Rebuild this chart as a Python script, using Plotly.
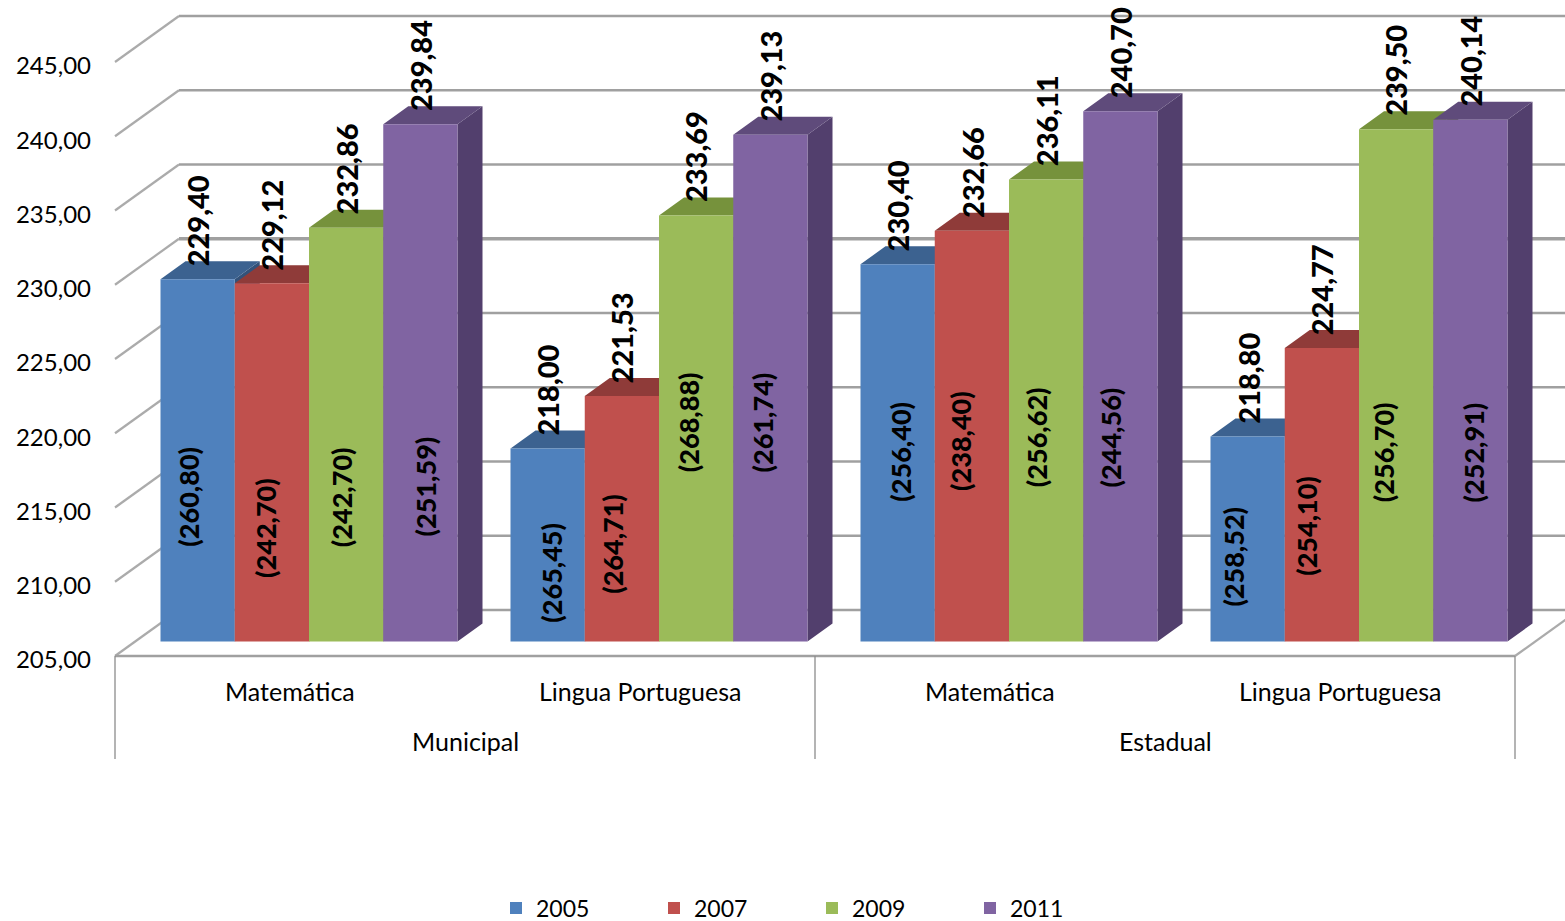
import plotly.graph_objects as go

groups = ["Municipal", "Estadual"]
subjects = ["Matemática", "Lingua Portuguesa", "Matemática", "Lingua Portuguesa"]
years = ["2005", "2007", "2009", "2011"]
values = {
    "2005": [229.40, 218.00, 230.40, 218.80],
    "2007": [229.12, 221.53, 232.66, 224.77],
    "2009": [232.86, 233.69, 236.11, 239.50],
    "2011": [239.84, 239.13, 240.70, 240.14],
}
paren = {
    "2005": ["(260,80)", "(265,45)", "(256,40)", "(258,52)"],
    "2007": ["(242,70)", "(264,71)", "(238,40)", "(254,10)"],
    "2009": ["(242,70)", "(268,88)", "(256,62)", "(256,70)"],
    "2011": ["(251,59)", "(261,74)", "(244,56)", "(252,91)"],
}
# hand-placed positions of the bracketed labels (value height, pixel shift from bar centre)
paren_y = {
    "2005": [214.73, 209.61, 217.76, 210.69],
    "2007": [212.64, 211.57, 218.50, 212.78],
    "2009": [214.73, 219.78, 218.77, 217.76],
    "2011": [215.47, 219.78, 218.77, 217.76],
}
paren_dx = {
    "2005": [-10, 3, 2, -15],
    "2007": [-7, -9, -12, -15],
    "2009": [-5, -8, -10, -13],
    "2011": [5, -8, -10, 3],
}
ticks = [205, 210, 215, 220, 225, 230, 235, 240, 245]
front = {"2005": "#4F81BD", "2007": "#C0504D", "2009": "#9BBB59", "2011": "#8064A2"}
top = {"2005": "#3C6290", "2007": "#8F3B39", "2009": "#76923C", "2011": "#5F4B7B"}
side = {"2005": "#33527A", "2007": "#7A3230", "2009": "#647C33", "2011": "#523F6D"}

W, H = 1565, 921
LEFT = 92
PX_X = 350.0        # pixels per category
PX_Y = 14.85        # pixels per value unit
FONT = "Lato"


def xr(shift=0):
    return [-0.5 + (LEFT - 115 - shift) / PX_X, -0.5 + (W - 115 - shift) / PX_X]


def yr(shift=0):
    return [205 - (H - 656 + shift) / PX_Y, 205 + (656 - shift) / PX_Y]


BAR_W = 74.25 / PX_X
DEPTH_X, DEPTH_Y = 25 / PX_X, 18 / PX_Y
WALL_X, WALL_Y = 64 / PX_X, 46 / PX_Y
END_X = xr()[1]

fig = go.Figure()

# back wall, side wall
for t in ticks:
    fig.add_trace(go.Scatter(
        x=[-0.5, -0.5 + WALL_X], y=[t, t + WALL_Y], mode="lines",
        line=dict(color="#ABABAB", width=2.2), showlegend=False, hoverinfo="skip"))
    fig.add_trace(go.Scatter(
        x=[-0.5 + WALL_X, END_X], y=[t + WALL_Y, t + WALL_Y], mode="lines",
        line=dict(color="#A0A0A0", width=3.4 if t == 230 else 2.6), showlegend=False, hoverinfo="skip"))

# floor edges and category brackets
fig.add_trace(go.Scatter(
    x=[-0.5, 3.5], y=[205, 205], mode="lines",
    line=dict(color="#A0A0A0", width=2.6), showlegend=False, hoverinfo="skip"))
fig.add_trace(go.Scatter(
    x=[3.5, 3.5 + WALL_X], y=[205, 205 + WALL_Y], mode="lines",
    line=dict(color="#ABABAB", width=2.2), showlegend=False, hoverinfo="skip"))
for bx in [-0.5, 1.5, 3.5]:
    fig.add_trace(go.Scatter(
        x=[bx, bx], y=[205, 205 - 103 / PX_Y], mode="lines",
        line=dict(color="#8C8C8C", width=1.3), showlegend=False, hoverinfo="skip"))

# side + top faces of every bar (third dimension)
for j, yr_name in enumerate(years):
    sx, sy, tx, ty = [], [], [], []
    for i, v in enumerate(values[yr_name]):
        l = i + (j - 2) * BAR_W
        r = l + BAR_W
        sx += [r, r + DEPTH_X, r + DEPTH_X, r, r, None]
        sy += [205, 205 + DEPTH_Y, v + DEPTH_Y, v, 205, None]
        tx += [l, l + DEPTH_X, r + DEPTH_X, r, l, None]
        ty += [v, v + DEPTH_Y, v + DEPTH_Y, v, v, None]
    fig.add_trace(go.Scatter(x=sx, y=sy, xaxis="x2", yaxis="y2", mode="lines", fill="toself",
                             fillcolor=side[yr_name], line=dict(width=0, color=side[yr_name]),
                             showlegend=False, hoverinfo="skip"))
    fig.add_trace(go.Scatter(x=tx, y=ty, xaxis="x2", yaxis="y2", mode="lines", fill="toself",
                             fillcolor=top[yr_name], line=dict(width=0, color=top[yr_name]),
                             showlegend=False, hoverinfo="skip"))

# front faces
for yr_name in years:
    fig.add_trace(go.Bar(
        x=list(range(4)), y=[v - 205 for v in values[yr_name]], base=205, name=yr_name,
        marker=dict(color=front[yr_name], line=dict(width=0)),
        xaxis="x3", yaxis="y3",
        customdata=values[yr_name], hovertemplate="%{customdata:.2f}<extra>" + yr_name + "</extra>"))

annotations = []
VALUE_FONT = dict(family=FONT, size=29, color="black", weight=900)
PAREN_FONT = dict(family=FONT, size=27, color="black", weight=900)
for j, yr_name in enumerate(years):
    for i, v in enumerate(values[yr_name]):
        cx = i + (j - 1.5) * BAR_W
        annotations.append(dict(
            x=cx, y=v, xref="x3", yref="y3", text=f"{v:.2f}".replace(".", ","), textangle=-90,
            showarrow=False, xanchor="center", yanchor="bottom", xshift=0, yshift=12,
            font=VALUE_FONT, borderpad=0))
        annotations.append(dict(
            x=cx, y=paren_y[yr_name][i], xref="x3", yref="y3", text=paren[yr_name][i], textangle=-90,
            showarrow=False, xanchor="center", yanchor="middle", xshift=paren_dx[yr_name][i],
            font=PAREN_FONT, borderpad=0))

for i, s in enumerate(subjects):
    annotations.append(dict(x=i, y=205, xref="x", yref="y", yshift=-35, text=s, showarrow=False,
                            yanchor="middle", font=dict(family=FONT, size=25, color="black")))
for i, g in enumerate(groups):
    annotations.append(dict(x=2 * i + 0.5, y=205, xref="x", yref="y", yshift=-85, text=g, showarrow=False,
                            yanchor="middle", font=dict(family=FONT, size=25, color="black")))

fig.update_layout(
    width=W, height=H, margin=dict(l=LEFT, r=0, t=0, b=0, autoexpand=False),
    paper_bgcolor="white", plot_bgcolor="white",
    separators=",.",
    barmode="group", bargap=1 - 4 * BAR_W, bargroupgap=0,
    font=dict(family=FONT, color="black"),
    xaxis=dict(range=xr(), visible=False, fixedrange=True),
    yaxis=dict(range=yr(), tickvals=ticks, tickformat=".2f", showgrid=False, zeroline=False,
               showline=False, ticks="", ticklabelshift=4,
               tickfont=dict(family=FONT, size=24, color="black"), fixedrange=True),
    xaxis2=dict(range=xr(19), visible=False, overlaying="x", fixedrange=True),
    yaxis2=dict(range=yr(14.5), visible=False, overlaying="y", fixedrange=True),
    xaxis3=dict(range=xr(19), visible=False, overlaying="x", fixedrange=True),
    yaxis3=dict(range=yr(14.5), visible=False, overlaying="y", fixedrange=True),
    legend=dict(orientation="h", xref="container", yref="container", x=496 / W, y=1 - 908 / H,
                xanchor="left", yanchor="middle", entrywidth=113, entrywidthmode="pixels",
                traceorder="normal", font=dict(family=FONT, size=23, color="black"),
                bgcolor="rgba(0,0,0,0)"),
    annotations=annotations,
)

fig.write_html("out.html", config={"displayModeBar": False},
               post_script="document.body.style.margin='0';")
